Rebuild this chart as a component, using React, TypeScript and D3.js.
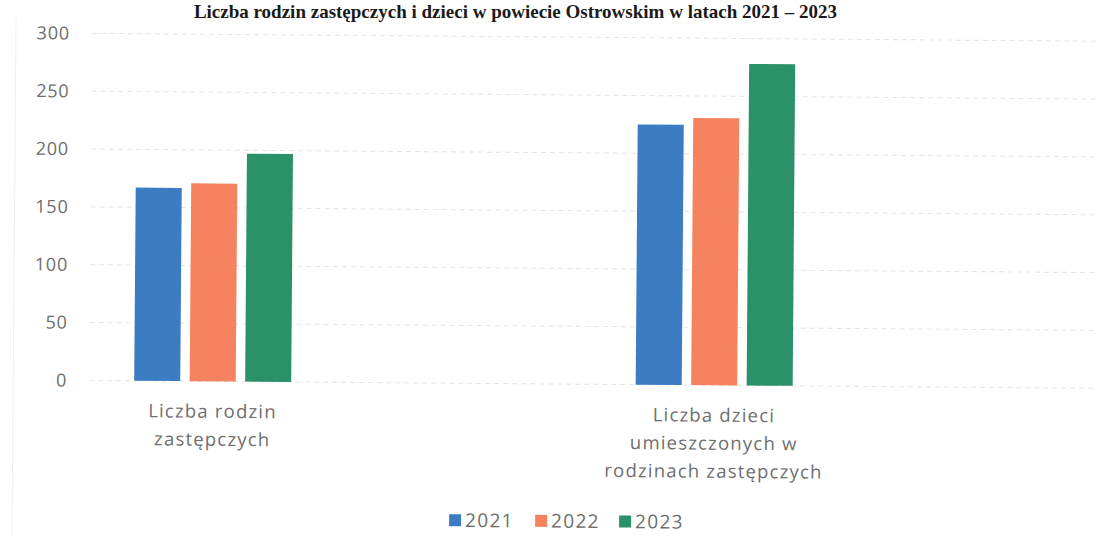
import React from "react";
import * as d3 from "d3";

const categories: string[][] = [
  ["Liczba rodzin", "zastępczych"],
  ["Liczba dzieci", "umieszczonych w", "rodzinach zastępczych"],
];
const categoryKeys = ["rodziny", "dzieci"];
const years = ["2021", "2022", "2023"];
const values2021 = [167, 225];
const values2022 = [171, 231];
const values2023 = [197, 278];
const yTicks = [0, 50, 100, 150, 200, 250, 300];
const colors = ["#3b7cc3", "#f5835f", "#2a9169"];
const title = "Liczba rodzin zastępczych i dzieci w powiecie Ostrowskim w latach 2021 – 2023";

const W = 1109;
const H = 557;

export default function App() {
  const series = [values2021, values2022, values2023];
  const y = d3.scaleLinear().domain([0, 300]).range([384, 37]);
  const x = d3.scalePoint<string>().domain(categoryKeys).range([213.5, 715]);
  const groupW = 157;
  const inner = d3.scaleBand<string>().domain(years).range([-groupW / 2, groupW / 2]).paddingInner(0.17);
  const font = "'Open Sans', 'DejaVu Sans', sans-serif";
  const textFill = "#6e6e6e";

  const legendItems = [
    { x: 451, tx: 467 },
    { x: 537, tx: 553 },
    { x: 621, tx: 637 },
  ];

  return (
    <>
      <style>{`body{margin:0;background:#fff}`}</style>
      <svg width={W} height={H} style={{ display: "block", background: "#fff" }}>
        <text
          x={837}
          y={18}
          textAnchor="end"
          fontFamily="'Liberation Serif', 'DejaVu Serif', serif"
          fontWeight="bold"
          fontSize={19}
          fill="#1a1a1a"
        >
          {title}
        </text>
        <g transform="rotate(0.45, 555, 280)">
          <line x1={14} x2={14} y1={20} y2={540} stroke="#f0f0f0" />
          {yTicks.map((t) => (
            <g key={t}>
              <line
                x1={90}
                x2={1095}
                y1={y(t)}
                y2={y(t)}
                stroke="#e4e4e4"
                strokeWidth={1}
                strokeDasharray="5 4"
              />
              <text
                x={68}
                y={y(t)}
                dy="0.35em"
                textAnchor="end"
                fontFamily={font}
                fontSize={18}
                letterSpacing={0.8}
                fill={textFill}
              >
                {t}
              </text>
            </g>
          ))}
          {categoryKeys.map((c, ci) => (
            <g key={c} transform={`translate(${x(c)},0)`}>
              {years.map((yr, si) => (
                <rect
                  key={yr}
                  x={inner(yr)}
                  width={inner.bandwidth()}
                  y={y(series[si][ci])}
                  height={y(0) - y(series[si][ci])}
                  fill={colors[si]}
                />
              ))}
              {categories[ci].map((line, li) => (
                <text
                  key={li}
                  x={0}
                  y={414 + li * 28}
                  dy="0.35em"
                  textAnchor="middle"
                  fontFamily={font}
                  fontSize={18.5}
                  letterSpacing={1.2}
                  fill={textFill}
                >
                  {line}
                </text>
              ))}
            </g>
          ))}
          {years.map((yr, i) => (
            <g key={yr}>
              <rect x={legendItems[i].x} y={515} width={12} height={12} fill={colors[i]} />
              <text
                x={legendItems[i].tx}
                y={521}
                dy="0.35em"
                fontFamily={font}
                fontSize={19}
                letterSpacing={1.3}
                fill={textFill}
              >
                {yr}
              </text>
            </g>
          ))}
        </g>
      </svg>
    </>
  );
}
